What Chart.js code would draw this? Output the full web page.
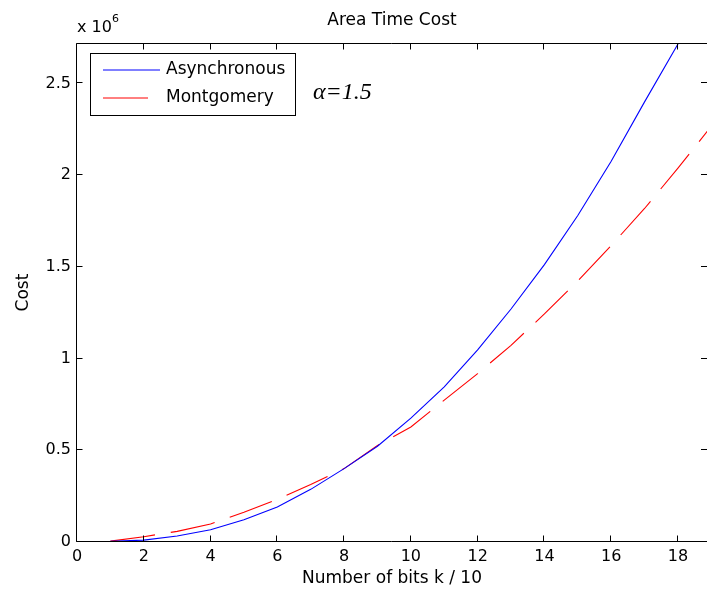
<!DOCTYPE html>
<html><head><meta charset="utf-8">
<script src="https://cdn.jsdelivr.net/npm/chart.js@4/dist/chart.umd.min.js"></script>
<style>html,body{margin:0;padding:0;background:#fff}canvas{display:block}</style>
</head><body>
<canvas id="c" width="707" height="594"></canvas>
<script>
// Data (cost in units of 10^6)
const bitsK = [1,2,3,4,5,6,7,8,9,10,11,12,13,14,15,16,17,18,19];
const asynchronousCost = [0.004,0.010,0.033,0.067,0.121,0.191,0.287,0.400,0.522,0.675,0.845,1.047,1.270,1.512,1.780,2.075,2.399,2.714,3.060];
const montgomeryCost   = [0.005,0.029,0.058,0.098,0.162,0.233,0.313,0.400,0.526,0.627,0.773,0.918,1.072,1.243,1.423,1.616,1.818,2.038,2.266];
const seriesNames = ['Asynchronous','Montgomery'];
const chartTitle = 'Area Time Cost';
const xAxisTitle = 'Number of bits k / 10';
const yAxisTitle = 'Cost';
const annotationText = '\u03B1=1.5';

const SANS = "'DejaVu Sans', 'Liberation Sans', Arial, sans-serif";

const framePlugin = {
  id: 'frame',
  afterDraw(chart) {
    const {ctx, chartArea: a, scales: {x, y}} = chart;
    ctx.save();
    ctx.strokeStyle = '#000';
    ctx.lineWidth = 1;
    const L = a.left - 0.5, B = Math.round(a.bottom) - 0.5, T = Math.round(a.top) + 0.5, R = a.right;
    ctx.beginPath();
    ctx.moveTo(L, T); ctx.lineTo(L, B); ctx.lineTo(R, B);
    ctx.moveTo(L, T); ctx.lineTo(R, T);
    ctx.stroke();
    // inward ticks
    ctx.beginPath();
    x.ticks.forEach(t => {
      const px = Math.round(x.getPixelForValue(t.value)) - 0.5;
      ctx.moveTo(px, B); ctx.lineTo(px, B - 6);
      ctx.moveTo(px, T); ctx.lineTo(px, T + 6);
    });
    y.ticks.forEach(t => {
      const py = Math.round(y.getPixelForValue(t.value)) - 0.5;
      ctx.moveTo(L, py); ctx.lineTo(L + 6, py);
      ctx.moveTo(R, py); ctx.lineTo(R - 6, py);
    });
    ctx.stroke();

    ctx.fillStyle = '#000';
    // title
    ctx.font = '17px ' + SANS;
    ctx.textAlign = 'center'; ctx.textBaseline = 'middle';
    ctx.fillText(chartTitle, 392, 21);
    // x axis title
    ctx.font = '17px ' + SANS;
    ctx.fillText(xAxisTitle, 392, 579);
    // y axis title
    ctx.save();
    ctx.translate(24, (a.top + a.bottom) / 2);
    ctx.rotate(-Math.PI / 2);
    ctx.fillText(yAxisTitle, 0, 0);
    ctx.restore();
    // exponent
    ctx.textAlign = 'left'; ctx.textBaseline = 'alphabetic';
    ctx.font = '16px ' + SANS;
    ctx.fillText('x 10', 77, 32);
    const w = ctx.measureText('x 10').width;
    ctx.font = '11px ' + SANS;
    ctx.fillText('6', 77 + w, 22);

    // legend
    ctx.fillStyle = '#fff';
    ctx.fillRect(90.5, 53.5, 205, 62);
    ctx.strokeStyle = '#000';
    ctx.strokeRect(90.5, 53.5, 205, 62);
    const ds = chart.data.datasets;
    const rows = [70, 98];
    ds.forEach((d, i) => {
      ctx.beginPath();
      ctx.strokeStyle = d.borderColor;
      ctx.lineWidth = 1;
      ctx.setLineDash(d.borderDash || []);
      ctx.moveTo(103, rows[i]); ctx.lineTo(160, rows[i]);
      ctx.stroke();
      ctx.setLineDash([]);
      ctx.fillStyle = '#000';
      ctx.font = '17px ' + SANS;
      ctx.textBaseline = 'middle';
      ctx.fillText(d.label, 166, rows[i] - 0.5);
    });
    // annotation
    ctx.textBaseline = 'alphabetic';
    ctx.font = 'italic 24px "Liberation Serif", "Times New Roman", serif';
    ctx.fillText(annotationText, 313, 99);
    ctx.restore();
  }
};

new Chart(document.getElementById('c').getContext('2d'), {
  type: 'line',
  data: {
    datasets: [
      { label: seriesNames[0], data: bitsK.map((k, i) => ({x: k, y: asynchronousCost[i]})),
        borderColor: '#0000ff', borderWidth: 1.1, pointRadius: 0, tension: 0, fill: false },
      { label: seriesNames[1], data: bitsK.map((k, i) => ({x: k, y: montgomeryCost[i]})),
        borderColor: '#ff0000', borderWidth: 1.1, borderDash: [45, 16], pointRadius: 0, tension: 0, fill: false }
    ]
  },
  options: {
    responsive: false, devicePixelRatio: 1, animation: false,
    layout: {padding: {top: 43, left: 0, right: 0, bottom: 0}},
    plugins: {legend: {display: false}, title: {display: false}, tooltip: {enabled: false}},
    scales: {
      x: {
        type: 'linear', min: 0, max: 18.87,
        afterFit(s) { s.height = 52; },
        grid: {display: false, drawTicks: false}, border: {display: false},
        ticks: {stepSize: 2, includeBounds: false, autoSkip: false, maxRotation: 0,
                font: {family: SANS, size: 16}, color: '#000', padding: 5}
      },
      y: {
        type: 'linear', min: 0, max: 2.72,
        afterFit(s) { s.width = 77; },
        grid: {display: false, drawTicks: false}, border: {display: false},
        ticks: {stepSize: 0.5, includeBounds: false, autoSkip: false,
                font: {family: SANS, size: 16}, color: '#000', padding: 6,
                callback: v => String(Math.round(v * 10) / 10)}
      }
    }
  },
  plugins: [framePlugin]
});
</script>
</body></html>
